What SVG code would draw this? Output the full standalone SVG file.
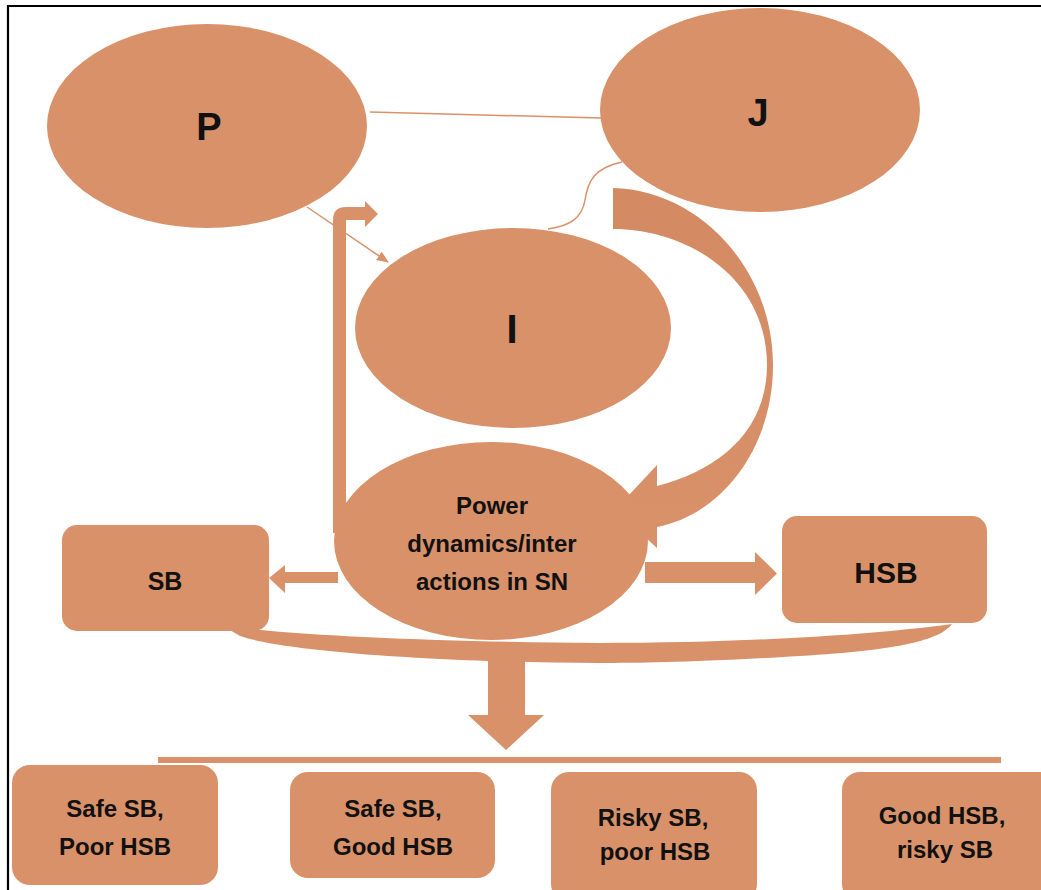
<svg xmlns="http://www.w3.org/2000/svg" width="1041" height="890" viewBox="0 0 1041 890">
<style>
.s{fill:#D9916A;}
.t{font-family:"Liberation Sans",Arial,sans-serif;font-weight:bold;fill:#111;text-anchor:middle;}
.ln{stroke:#D9916A;stroke-width:1.5;fill:none;}
</style>
<defs>
<marker id="ah" viewBox="0 0 12 10" refX="11" refY="5" markerWidth="12" markerHeight="10" markerUnits="userSpaceOnUse" orient="auto">
<path d="M0,0 L12,5 L0,10 Z" fill="#D9916A"/>
</marker>
<linearGradient id="bg" x1="0" y1="0" x2="0" y2="1">
<stop offset="0" stop-color="#D38A63"/>
<stop offset="0.5" stop-color="#D68E67"/>
<stop offset="1" stop-color="#D9916A"/>
</linearGradient>
</defs>
<rect x="0" y="0" width="1041" height="890" fill="#fff"/>
<path d="M8,890 L8,6 L1041,6" fill="none" stroke="#000" stroke-width="2.2"/>

<g id="connectors">
<line class="ln" x1="370" y1="112" x2="601" y2="118"/>
<line class="ln" x1="307" y1="207" x2="388" y2="262" marker-end="url(#ah)"/>
<path class="ln" d="M622,162 C595,168 588,180 585,200 C582,218 570,226 548,229" stroke-width="1"/>
<path class="s" d="M333,533 L333,220 Q333,207 346,207 L365,207 L365,201 L378,214 L365,227 L365,220 L346,220 L346,533 Z"/>
<path d="M613,188 C700,190 773,270 773,365 C773,450 720,515 657,527 L657,548 L615,510 L657,465 L657,486 C720,470 767,430 767,365 C767,280 690,229 613,229 Z" fill="url(#bg)"/>
<path class="s" d="M338,572 L285,572 L285,565 L269,578 L285,593 L285,583 L338,583 Z"/>
<path class="s" d="M645,562 L755,562 L755,552 L777,573.5 L755,595 L755,583 L645,583 Z"/>
<path class="s" d="M223,626 C300,636 450,642 600,643 C750,643 880,634 952,624 C940,640 900,650 800,656 C700,662 640,663 600,663 C420,662 280,650 240,636 Z"/>
<path class="s" d="M488,660 L525,660 L525,715 L544,715 L506,750 L468,715 L488,715 Z"/>
<rect class="s" x="158" y="757" width="843" height="6"/>
</g>

<g id="node-P">
<ellipse class="s" cx="207" cy="126" rx="160" ry="102"/>
<text class="t" x="209" y="140" font-size="38">P</text>
</g>
<g id="node-J">
<ellipse class="s" cx="760" cy="110" rx="160" ry="102"/>
<text class="t" x="758" y="126" font-size="38">J</text>
</g>
<g id="node-I">
<ellipse class="s" cx="513" cy="328" rx="158" ry="100"/>
<text class="t" x="512" y="343" font-size="40">I</text>
</g>
<g id="node-power">
<ellipse class="s" cx="491" cy="541" rx="157" ry="99"/>
<text class="t" x="492" y="514" font-size="24">Power</text>
<text class="t" x="492" y="552" font-size="24">dynamics/inter</text>
<text class="t" x="492" y="590" font-size="24">actions in SN</text>
</g>
<g id="node-SB">
<rect class="s" x="62" y="525" width="207" height="106" rx="15"/>
<text class="t" x="165" y="590" font-size="25">SB</text>
</g>
<g id="node-HSB">
<rect class="s" x="782" y="516" width="205" height="107" rx="15"/>
<text class="t" x="886" y="583" font-size="30">HSB</text>
</g>
<g id="node-out1">
<rect class="s" x="12" y="765" width="206" height="120" rx="18"/>
<text class="t" x="115" y="817" font-size="24">Safe SB,</text>
<text class="t" x="115" y="855" font-size="24">Poor HSB</text>
</g>
<g id="node-out2">
<rect class="s" x="290" y="772" width="205" height="106" rx="18"/>
<text class="t" x="393" y="817" font-size="24">Safe SB,</text>
<text class="t" x="393" y="855" font-size="24">Good HSB</text>
</g>
<g id="node-out3">
<rect class="s" x="551" y="772" width="206" height="130" rx="18"/>
<text class="t" x="653" y="826" font-size="24">Risky SB,</text>
<text class="t" x="655" y="860" font-size="24">poor HSB</text>
</g>
<g id="node-out4">
<rect class="s" x="842" y="772" width="220" height="130" rx="18"/>
<text class="t" x="942" y="824" font-size="24">Good HSB,</text>
<text class="t" x="945" y="858" font-size="24">risky SB</text>
</g>
</svg>
